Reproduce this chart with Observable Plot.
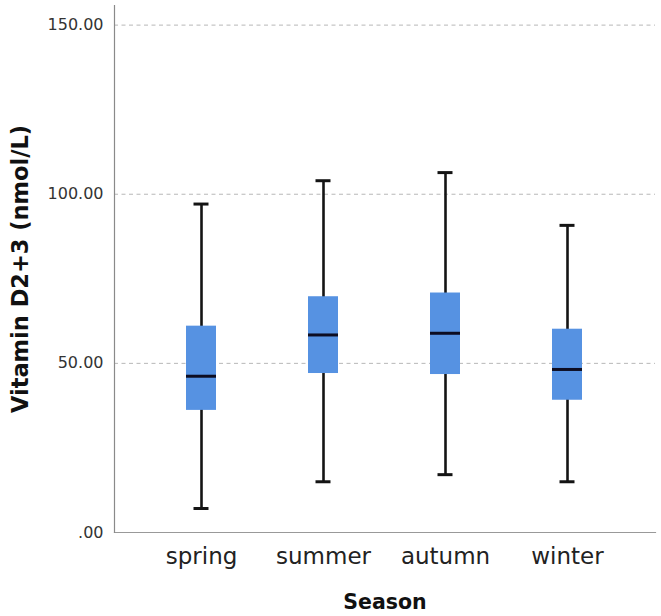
<!DOCTYPE html>
<html>
<head>
<meta charset="utf-8">
<script src="https://cdn.jsdelivr.net/npm/d3@7"></script>
<script src="https://cdn.jsdelivr.net/npm/@observablehq/plot@0.6"></script>
<style>
  html, body { margin: 0; padding: 0; background: #fff; }
  #chart svg { display: block; }
</style>
</head>
<body>
<div id="chart"></div>
<script>
const seasons = ["spring", "summer", "autumn", "winter"];
const whiskerLow = [7.1, 15.0, 17.1, 15.0];
const q1 = [36.1, 47.0, 46.7, 39.1];
const median = [46.2, 58.4, 58.9, 48.2];
const q3 = [61.0, 69.7, 70.8, 60.1];
const whiskerHigh = [97.1, 104.0, 106.4, 90.8];
const yTicks = [0, 50, 100, 150];
const gridTicks = [50, 100, 150];

const data = seasons.map((s, i) => ({
  season: s, lo: whiskerLow[i], q1: q1[i], med: median[i], q3: q3[i], hi: whiskerHigh[i]
}));

const chart = Plot.plot({
  width: 661,
  height: 616,
  marginLeft: 114,
  marginRight: 6,
  marginTop: 5,
  marginBottom: 84,
  style: { fontFamily: "DejaVu Sans", background: "#fff" },
  x: { domain: seasons, type: "band", paddingInner: 0.754, paddingOuter: 0.594, label: null, axis: null },
  y: { domain: [0, 155.8], label: null, axis: null },
  marks: [
    Plot.ruleY(gridTicks, { stroke: "#b8b8b8", strokeDasharray: "4,3.5", strokeWidth: 1 }),
    Plot.frame({ anchor: "bottom", stroke: "#999", strokeWidth: 1.2 }),
    Plot.frame({ anchor: "left", stroke: "#8a8a8a", strokeWidth: 1.2 }),
    Plot.axisY(yTicks, {
      tickSize: 0, tickPadding: 11, fontSize: 16, fill: "#333",
      tickFormat: d => d === 0 ? ".00" : d.toFixed(2), label: null
    }),
    Plot.axisX({ tickSize: 0, tickPadding: 15, fontSize: 23, fill: "#222", label: null }),
    Plot.ruleX(data, { x: "season", y1: "lo", y2: "hi", stroke: "#141414", strokeWidth: 2.6 }),
    Plot.tickY(data, { x: "season", y: "lo", stroke: "#141414", strokeWidth: 3, insetLeft: 7.5, insetRight: 7.5 }),
    Plot.tickY(data, { x: "season", y: "hi", stroke: "#141414", strokeWidth: 3, insetLeft: 7.5, insetRight: 7.5 }),
    Plot.barY(data, { x: "season", y1: "q1", y2: "q3", fill: "#5692e2" }),
    Plot.tickY(data, { x: "season", y: "med", stroke: "#0d0d22", strokeWidth: 3 }),
    Plot.text(["Vitamin D2+3 (nmol/L)"], {
      text: d => d, frameAnchor: "left", rotate: -90, dx: -94,
      textAnchor: "middle", lineAnchor: "middle",
      fontSize: 22.5, fontWeight: "bold", fill: "#111"
    }),
    Plot.text(["Season"], {
      text: d => d, frameAnchor: "bottom", dy: 70,
      textAnchor: "middle", lineAnchor: "middle",
      fontSize: 20.5, fontWeight: "bold", fill: "#111"
    })
  ]
});
document.getElementById("chart").appendChild(chart);
</script>
</body>
</html>
